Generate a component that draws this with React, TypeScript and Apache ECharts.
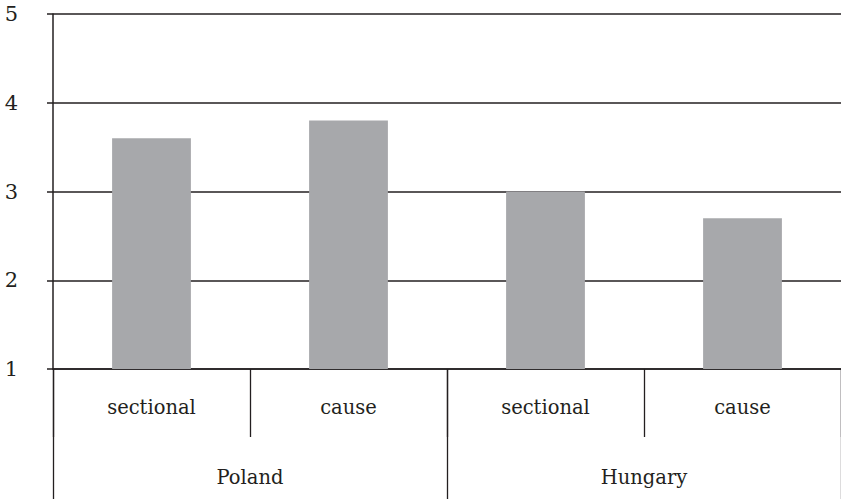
import React, { useEffect, useRef } from "react";
import * as echarts from "echarts";

const subCategories = ["sectional", "cause", "sectional", "cause"];
const groupCategories = ["Poland", "Hungary"];
const values = [3.6, 3.8, 3.0, 2.7];
const yTicks = { min: 1, max: 5, interval: 1 };

const FONT = "'DejaVu Serif'";
const FS = 19.5;
const INK = "#231f20";

export default function App() {
  const ref = useRef<HTMLDivElement>(null);
  useEffect(() => {
    document.body.style.margin = "0";
    if (!ref.current) return;
    const chart = echarts.init(ref.current, undefined, { renderer: "svg" });
    chart.setOption({
      animation: false,
      backgroundColor: "#ffffff",
      textStyle: { fontFamily: FONT },
      grid: { left: 53, top: 14, width: 793, height: 355, containLabel: false },
      xAxis: [
        {
          type: "category",
          data: subCategories,
          position: "bottom",
          offset: 0,
          boundaryGap: true,
          axisLine: { show: true, lineStyle: { color: INK, width: 1.5 } },
          axisTick: { show: true, interval: 0, length: 68, lineStyle: { color: INK, width: 1.3 } },
          axisLabel: { interval: 0, margin: 28, fontSize: FS, fontFamily: FONT, color: INK },
          splitLine: { show: false },
        },
        {
          type: "category",
          data: groupCategories,
          position: "bottom",
          offset: 0,
          boundaryGap: true,
          axisLine: { show: false },
          axisTick: { show: true, interval: 0, length: 131, lineStyle: { color: INK, width: 1.3 } },
          axisLabel: { interval: 0, margin: 98, fontSize: FS, fontFamily: FONT, color: INK },
          splitLine: { show: false },
        },
      ],
      yAxis: {
        type: "value",
        min: yTicks.min,
        max: yTicks.max,
        interval: yTicks.interval,
        axisLine: { show: true, lineStyle: { color: INK, width: 1.5 } },
        axisTick: { show: true, length: 6, lineStyle: { color: INK, width: 1.5 } },
        axisLabel: { margin: 35, fontSize: 21, fontFamily: FONT, color: INK },
        splitLine: { show: true, lineStyle: { color: INK, width: 1.5 } },
      },
      series: [
        {
          type: "bar",
          xAxisIndex: 0,
          data: values,
          barWidth: "40%",
          itemStyle: { color: "#a7a8ab" },
        },
      ],
    });
    return () => chart.dispose();
  }, []);
  return <div ref={ref} style={{ width: 841, height: 499 }} />;
}
